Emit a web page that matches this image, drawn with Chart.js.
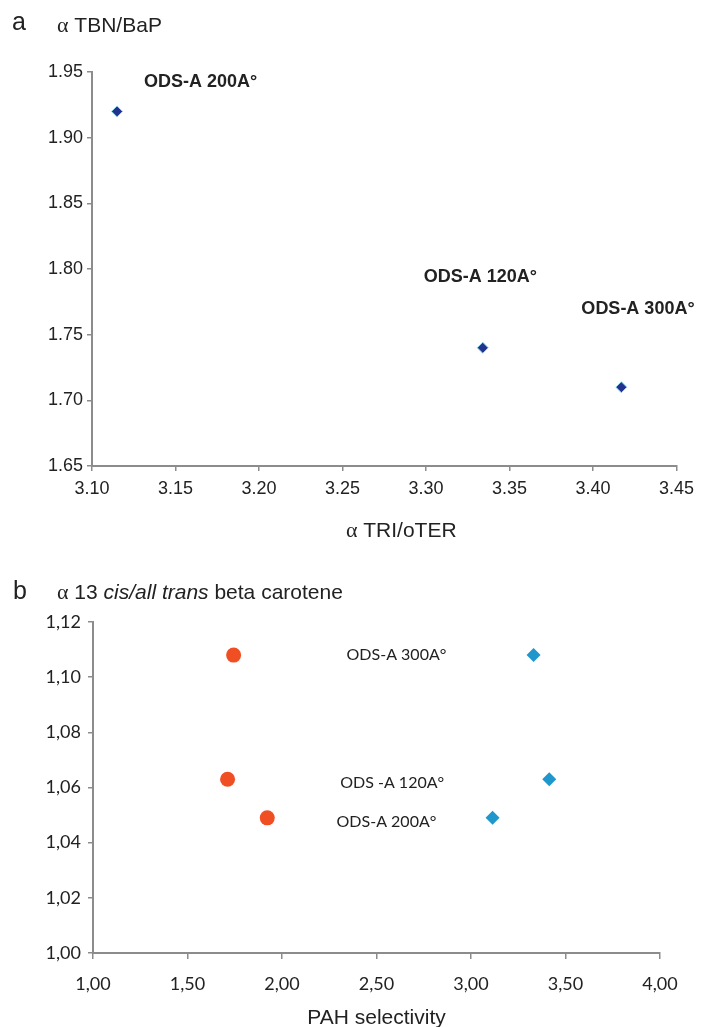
<!DOCTYPE html>
<html>
<head>
<meta charset="utf-8">
<script src="https://cdn.jsdelivr.net/npm/chart.js@4"></script>
<style>
  body { margin: 0; background: #fff; width: 701px; height: 1027px; position: relative; overflow: hidden; }
  canvas { position: absolute; left: 0; }
  #chartA { top: 0; }
  #chartB { top: 560px; }
</style>
</head>
<body>
<canvas id="chartA" width="701" height="560"></canvas>
<canvas id="chartB" width="701" height="467"></canvas>
<script>
// panel a
var aLabels = ['ODS-A 200A°', 'ODS-A 120A°', 'ODS-A 300A°'];
var triOter = [3.115, 3.334, 3.417];
var tbnBap = [1.920, 1.740, 1.710];

// panel b
var bLabels = ['ODS-A 300A°', 'ODS -A 120A°', 'ODS-A 200A°'];
var pahOrange = [1.744, 1.712, 1.922];
var pahBlue = [3.331, 3.414, 3.114];
var carotene = [1.108, 1.063, 1.049];

var axisGray = '#8c8c8c';
var textCol = '#222';

function pts(xs, ys) {
    return xs.map(function (x, i) { return { x: x, y: ys[i] }; });
}

function drawRun(ctx, x, y, segs) {
    ctx.textAlign = 'left';
    ctx.textBaseline = 'alphabetic';
    ctx.fillStyle = textCol;
    segs.forEach(function (s) {
        ctx.font = s[1];
        ctx.fillText(s[0], x, y);
        x += ctx.measureText(s[0]).width;
    });
}

function axisOpts(min, max, step, font, decSep, tickLen, pad) {
    return {
        type: 'linear',
        min: min, max: max,
        ticks: {
            stepSize: step,
            color: textCol,
            font: font,
            padding: pad,
            callback: function (v) { return v.toFixed(2).replace('.', decSep); }
        },
        grid: { drawOnChartArea: false, drawTicks: true, tickLength: tickLen, color: axisGray, lineWidth: 1.5 },
        border: { display: true, color: axisGray, width: 2 }
    };
}

// ---------- chart a ----------
var aOffsets = [[27, -24], [-59, -66], [-40, -73]];
var ctx = document.getElementById('chartA').getContext('2d');
var xA = axisOpts(3.10, 3.45, 0.05, { family: 'Liberation Sans, Arial', size: 18 }, '.', 5, 7);
xA.afterFit = function (s) { s.height = 94; };
var yA = axisOpts(1.65, 1.95, 0.05, { family: 'Liberation Sans, Arial', size: 18 }, '.', 5, 4);
yA.afterFit = function (s) { s.width = 92; };

var chartA = new Chart(ctx, {
    type: 'scatter',
    data: {
        datasets: [{
            data: pts(triOter, tbnBap),
            pointStyle: 'rectRot',
            pointRadius: 5.5,
            backgroundColor: '#22338f',
            borderColor: '#8fd6ea',
            borderWidth: 1
        }]
    },
    options: {
        responsive: false,
        animation: false,
        devicePixelRatio: 1,
        layout: { padding: { top: 72, right: 24, left: 0, bottom: 0 } },
        plugins: { legend: { display: false }, tooltip: { enabled: false } },
        scales: { x: xA, y: yA }
    },
    plugins: [{
        id: 'textsA',
        afterDatasetsDraw: function (chart) {
            var c = chart.ctx, sx = chart.scales.x, sy = chart.scales.y;
            c.save();
            drawRun(c, 12, 30, [['a', '25px Liberation Sans, Arial']]);
            drawRun(c, 57, 32, [['α', '22px Liberation Serif, serif'], [' TBN/BaP', '21px Liberation Sans, Arial']]);
            aLabels.forEach(function (t, i) {
                var px = sx.getPixelForValue(triOter[i]), py = sy.getPixelForValue(tbnBap[i]);
                drawRun(c, px + aOffsets[i][0], py + aOffsets[i][1], [[t, 'bold 18px Liberation Sans, Arial']]);
            });
            c.font = '21px Liberation Sans, Arial';
            var segs = [['α', '22px Liberation Serif, serif'], [' TRI/oTER', '21px Liberation Sans, Arial']];
            var w = 0;
            segs.forEach(function (s) { c.font = s[1]; w += c.measureText(s[0]).width; });
            var cx = (chart.chartArea.left + chart.chartArea.right) / 2 + 17;
            drawRun(c, cx - w / 2, 537, segs);
            c.restore();
        }
    }]
});

// ---------- chart b ----------
var bOffsets = [[-187, 5], [-209, 9], [-156, 9]];
var ctx1 = document.getElementById('chartB').getContext('2d');
var xB = axisOpts(1.00, 4.00, 0.5, { family: 'Lato', size: 18 }, ',', 6, 14);
xB.afterFit = function (s) { s.height = 74; };
var yB = axisOpts(1.00, 1.12, 0.02, { family: 'Lato', size: 18 }, ',', 5, 7);
yB.afterFit = function (s) { s.width = 93; };

var chartB = new Chart(ctx1, {
    type: 'scatter',
    data: {
        datasets: [{
            data: pts(pahOrange, carotene),
            pointStyle: 'circle',
            pointRadius: 7.5,
            backgroundColor: '#f04e23',
            borderColor: '#f04e23',
            borderWidth: 0
        }, {
            data: pts(pahBlue, carotene),
            pointStyle: 'rectRot',
            pointRadius: 7,
            backgroundColor: '#1f97cc',
            borderColor: '#1f97cc',
            borderWidth: 0
        }]
    },
    options: {
        responsive: false,
        animation: false,
        devicePixelRatio: 1,
        layout: { padding: { top: 62, right: 41, left: 0, bottom: 0 } },
        plugins: { legend: { display: false }, tooltip: { enabled: false } },
        scales: { x: xB, y: yB }
    },
    plugins: [{
        id: 'textsB',
        afterDatasetsDraw: function (chart) {
            var c = chart.ctx, sx = chart.scales.x, sy = chart.scales.y;
            c.save();
            drawRun(c, 13, 39, [['b', '25px Liberation Sans, Arial']]);
            drawRun(c, 57, 39, [
                ['α', '22px Liberation Serif, serif'],
                [' 13 ', '21px Liberation Sans, Arial'],
                ['cis/all trans', 'italic 21px Liberation Sans, Arial'],
                [' beta carotene', '21px Liberation Sans, Arial']
            ]);
            bLabels.forEach(function (t, i) {
                var px = sx.getPixelForValue(pahBlue[i]), py = sy.getPixelForValue(carotene[i]);
                drawRun(c, px + bOffsets[i][0], py + bOffsets[i][1], [[t, '16px Lato']]);
            });
            c.font = '21px Liberation Sans, Arial';
            var t = 'PAH selectivity';
            var cx = (chart.chartArea.left + chart.chartArea.right) / 2;
            drawRun(c, cx - c.measureText(t).width / 2, 464, [[t, '21px Liberation Sans, Arial']]);
            c.restore();
        }
    }]
});
</script>
</body>
</html>
